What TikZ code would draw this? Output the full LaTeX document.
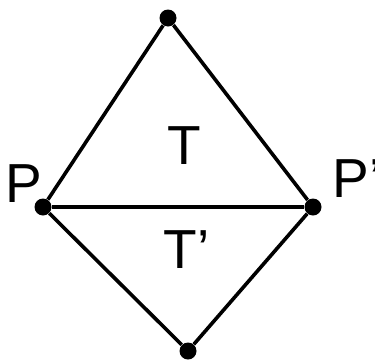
\documentclass[tikz,border=0pt]{standalone}
\usepackage{fontspec}
\setmainfont{Liberation Sans}
\usetikzlibrary{positioning}

\begin{document}
\begin{tikzpicture}[
    x=0.5pt, y=-0.5pt,
    vertex/.style={circle, fill=black, inner sep=0pt, minimum size=8.5pt},
    edge/.style={line width=1.8pt},
    lbl/.style={anchor=base west, inner sep=0pt, font=\fontsize{27.5}{32}\selectfont}
]
    \useasboundingbox (0,0) rectangle (375,359);
    \node[vertex] (top) at (168, 18) {};
    \node[vertex] (p) at (43, 207) {};
    \node[vertex] (pp) at (313, 207) {};
    \node[vertex] (bot) at (188, 351) {};

    \node[lbl] (plbl) at (5, 202) {P};
    \node[lbl] (pplbl) at (332, 197) {P’};
    \node[lbl] (t) at (167, 164) {T};
    \node[lbl] (tp) at (163, 268) {T’};

    \draw[edge] (top) -- (p);
    \draw[edge] (top) -- (pp);
    \draw[edge] (p) -- (pp);
    \draw[edge] (p) -- (bot);
    \draw[edge] (pp) -- (bot);
\end{tikzpicture}
\end{document}
